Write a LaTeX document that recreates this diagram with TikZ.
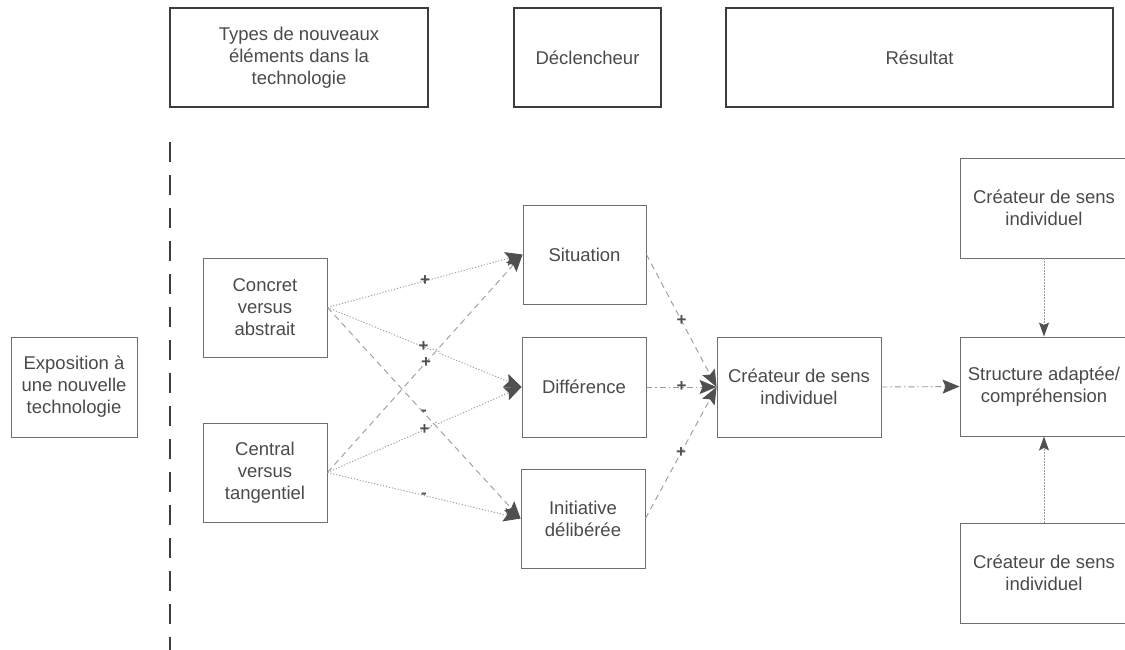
\documentclass[tikz,border=0pt]{standalone}
\usepackage{fontspec}
\setmainfont{Liberation Sans}
\usetikzlibrary{arrows.meta,calc}
\definecolor{txt}{HTML}{4A4A4A}
\definecolor{bord}{HTML}{6E6E6E}
\definecolor{hbord}{HTML}{3C3C3C}
\definecolor{conn}{HTML}{9A9A9A}
\definecolor{tipc}{HTML}{505050}
\begin{document}
\begin{tikzpicture}[x=1pt,y=-1pt,
  txtnode/.style={font=\fontsize{18.5}{22}\selectfont, text=txt, align=center, inner sep=0pt},
  box/.style={txtnode, draw=bord, line width=0.9pt},
  hbox/.style={txtnode, draw=hbord, line width=1.6pt},
  conn/.style={draw=conn, line width=0.9pt},
  dots/.style={conn, dash pattern=on 1.2pt off 1.8pt},
  dashes/.style={conn, dash pattern=on 6pt off 4.5pt},
  dashdot/.style={conn, dash pattern=on 6pt off 3pt on 1.5pt off 3pt},
  tipped/.style={-{Stealth[length=17pt,width=14pt,inset=3pt,color=tipc]}},
  vtipped/.style={-{Stealth[length=14pt,width=10pt,inset=2.5pt,color=tipc]}},
  lbl/.style={font=\fontsize{17}{17}\selectfont\bfseries, text=tipc, inner sep=0pt}
]
\useasboundingbox (0,0) rectangle (1125,649);

% header boxes
\node[hbox, minimum width=258pt, minimum height=99pt] (hdrA) at (299,57.5) {Types de nouveaux\\éléments dans la\\technologie};
\node[hbox, minimum width=147pt, minimum height=99pt] (hdrB) at (587.5,57.5) {Déclencheur};
\node[hbox, minimum width=387pt, minimum height=99pt] (hdrC) at (919.5,57.5) {Résultat};

% separator
\coordinate (septop) at (170,142);
\coordinate (sepbot) at (170,652);
\draw[draw=hbord, line width=1.6pt, dash pattern=on 20pt off 13pt] (septop) -- (sepbot);

% boxes
\node[box, minimum width=126pt, minimum height=100pt] (expo) at (74,387) {Exposition à\\une nouvelle\\technologie};
\node[box, minimum width=124pt, minimum height=99pt] (concrete) at (265,307.5) {Concret\\versus\\abstrait};
\node[box, minimum width=124pt, minimum height=99pt] (central) at (265,472.5) {Central\\versus\\tangentiel};
\node[box, minimum width=123pt, minimum height=99pt] (situation) at (584.5,254.5) {Situation};
\node[box, minimum width=124pt, minimum height=100pt] (difference) at (584,387) {Différence};
\node[box, minimum width=124pt, minimum height=99pt] (initiative) at (583,518.5) {Initiative\\délibérée};
\node[box, minimum width=164pt, minimum height=100pt] (createur) at (799,387) {Créateur de sens\\individuel};
\node[box, minimum width=168pt, minimum height=99pt] (structure) at (1044,386.5) {Structure adaptée/\\compréhension};
\node[box, minimum width=168pt, minimum height=100pt] (ctop) at (1044,208) {Créateur de sens\\individuel};
\node[box, minimum width=168pt, minimum height=100pt] (cbot) at (1044,573) {Créateur de sens\\individuel};

% left connectors
\draw[dots, tipped] (concrete.east) -- node[lbl] (l1) {+} (situation.west);
\draw[dots, tipped] (concrete.east) -- node[lbl, pos=0.92] (l2) {+} ($(concrete.east)!0.538!(difference.west)$)
   to[bend left=90] ($(concrete.east)!0.576!(difference.west)$) -- (difference.west);
\draw[dashes, tipped] (concrete.east) -- node[lbl] (l3) {-} (initiative.west);
\draw[dashes, tipped] (central.east) -- node[lbl, pos=0.505] (l4) {+} (situation.west);
\draw[dots, tipped] (central.east) -- node[lbl, pos=0.935] (l5) {+} ($(central.east)!0.535!(difference.west)$)
   to[bend left=90] ($(central.east)!0.573!(difference.west)$) -- (difference.west);
\draw[dots, tipped] (central.east) -- node[lbl] (l6) {-} (initiative.west);

% right connectors
\draw[dashes, tipped] (situation.east) -- node[lbl] (r1) {+} (createur.west);
\draw[dashdot, tipped] (difference.east) -- node[lbl] (r2) {+} (createur.west);
\draw[dashes, tipped] (initiative.east) -- node[lbl] (r3) {+} (createur.west);
\draw[dashdot, tipped] (createur.east) -- (structure.west);
\draw[dots, vtipped] (ctop.south) -- (structure.north);
\draw[dots, vtipped] (cbot.north) -- (structure.south);
\end{tikzpicture}
\end{document}
